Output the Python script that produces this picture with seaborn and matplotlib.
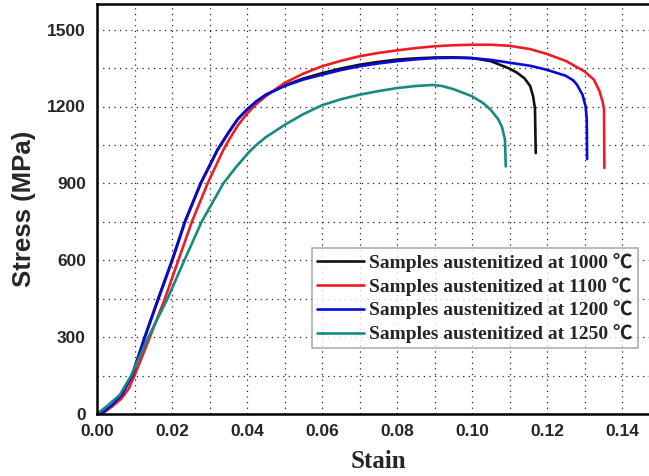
import numpy as np
import pandas as pd
import matplotlib
matplotlib.use("Agg")
import matplotlib.pyplot as plt
from matplotlib.ticker import MultipleLocator
import seaborn as sns

# values
strain_1000 = [0, 0.002, 0.0039, 0.0065, 0.0093, 0.0127, 0.0163, 0.0200, 0.0234, 0.0276, 0.0321,
               0.0351, 0.0375, 0.040, 0.0425, 0.045, 0.050, 0.055, 0.060, 0.065, 0.070, 0.075, 0.080,
               0.085, 0.090, 0.095, 0.100, 0.105, 0.110, 0.112, 0.114, 0.1155, 0.1163, 0.1168,
               0.1169, 0.1170]
stress_1000 = [0, 8, 30, 75, 150, 300, 450, 600, 750, 900, 1031,
               1100, 1150, 1188, 1220, 1246, 1282, 1309, 1330, 1348, 1363, 1374, 1383,
               1388, 1391, 1392, 1389, 1377, 1348, 1332, 1310, 1280, 1240, 1190,
               1100, 1018]

strain_1100 = [0, 0.002, 0.0041, 0.0065, 0.0085, 0.0100, 0.0141, 0.0181, 0.0217, 0.0253, 0.0295,
               0.0337, 0.0352, 0.0375, 0.040, 0.0425, 0.045, 0.050, 0.055, 0.060, 0.065, 0.070,
               0.075, 0.080, 0.085, 0.090, 0.095, 0.100, 0.105, 0.110, 0.1155, 0.120, 0.125, 0.130,
               0.1325, 0.134, 0.1348, 0.1352, 0.1353]
stress_1100 = [0, 10, 30, 60, 100, 150, 300, 450, 600, 750, 900,
               1031, 1070, 1125, 1172, 1210, 1240, 1292, 1328, 1357, 1378, 1396,
               1409, 1419, 1428, 1435, 1439, 1441, 1441, 1437, 1424, 1405, 1378, 1337,
               1305, 1260, 1220, 1190, 960]

strain_1200 = [0, 0.002, 0.004, 0.0066, 0.0094, 0.0128, 0.0164, 0.0201, 0.0235, 0.0277, 0.0322,
               0.0352, 0.0375, 0.040, 0.0425, 0.045, 0.050, 0.055, 0.060, 0.065, 0.070, 0.075,
               0.080, 0.085, 0.090, 0.095, 0.100, 0.105, 0.110, 0.1155, 0.120, 0.125, 0.127,
               0.128, 0.1295, 0.1303, 0.1306, 0.1307]
stress_1200 = [0, 12, 35, 75, 150, 300, 450, 600, 750, 900, 1031,
               1100, 1150, 1188, 1220, 1245, 1280, 1305, 1324, 1342, 1357, 1368,
               1377, 1384, 1389, 1390, 1389, 1382, 1371, 1359, 1343, 1320, 1302,
               1285, 1245, 1200, 1150, 995]

strain_1250 = [0, 0.0026, 0.0061, 0.0091, 0.0137, 0.0188, 0.0233, 0.0279, 0.0337, 0.0370, 0.0404,
               0.0425, 0.045, 0.050, 0.055, 0.060, 0.065, 0.070, 0.075, 0.080, 0.085, 0.0895, 0.092,
               0.095, 0.100, 0.103, 0.105, 0.107, 0.108, 0.1088, 0.1090]
stress_1250 = [0, 30, 75, 150, 300, 450, 600, 750, 900, 962, 1020,
               1050, 1080, 1128, 1170, 1205, 1228, 1246, 1260, 1272, 1280, 1284, 1280,
               1268, 1240, 1213, 1187, 1150, 1120, 1070, 966]

labels = ["Samples austenitized at 1000 \u2103", "Samples austenitized at 1100 \u2103",
          "Samples austenitized at 1200 \u2103", "Samples austenitized at 1250 \u2103"]
colors = ["#111111", "#ee1c24", "#0a0ad8", "#178a82"]

frames = []
for lab, xs, ys in zip(labels,
                       [strain_1000, strain_1100, strain_1200, strain_1250],
                       [stress_1000, stress_1100, stress_1200, stress_1250]):
    frames.append(pd.DataFrame({"strain": xs, "stress": ys, "sample": lab}))
df = pd.concat(frames, ignore_index=True)

sns.set_style("white")

fig = plt.figure(figsize=(6.49, 4.76), dpi=100)
ax = fig.add_axes([97 / 649, 62 / 476, 0.15 * 3750 / 649, 410 / 476])

sns.lineplot(data=df, x="strain", y="stress", hue="sample",
             palette=dict(zip(labels, colors)), sort=False, estimator=None,
             linewidth=1.9, ax=ax, legend=False)
for lab, c in zip(labels, colors):
    ax.plot([], [], color=c, linewidth=1.9, label=lab)

ax.set_xlim(0, 0.15)
ax.set_ylim(0, 1600)
ax.xaxis.set_major_locator(MultipleLocator(0.02))
ax.xaxis.set_minor_locator(MultipleLocator(0.01))
ax.yaxis.set_major_locator(MultipleLocator(300))
ax.yaxis.set_minor_locator(MultipleLocator(150))
ax.grid(True, which="both", linestyle=(0, (1, 3.5)), color="#222222", linewidth=0.9)
ax.set_axisbelow(True)

ax.tick_params(which="major", direction="in", length=6, width=1.3, top=False, right=False)
ax.tick_params(which="minor", direction="in", length=3, width=1.0, top=False, right=False)
ax.tick_params(axis="y", which="major", pad=8)
ax.tick_params(axis="x", which="major", pad=7)
for lbl in ax.get_xticklabels() + ax.get_yticklabels():
    lbl.set_family("Liberation Sans")
    lbl.set_fontweight("bold")
    lbl.set_fontsize(12.5)
ax.xaxis.set_major_formatter(plt.FuncFormatter(lambda v, p: f"{v:.2f}"))
ax.yaxis.set_major_formatter(plt.FuncFormatter(lambda v, p: f"{v:.0f}"))

for s in ax.spines.values():
    s.set_linewidth(1.8)
    s.set_color("black")

ax.set_xlabel("Stain", family="Liberation Serif", fontweight="bold", fontsize=18, labelpad=8)
ax.set_ylabel("Stress (MPa)", family="Liberation Sans", fontweight="bold", fontsize=18.5, labelpad=8)

leg = ax.legend(loc="upper left", bbox_to_anchor=(312 / 649, 1 - 248 / 476),
                bbox_transform=fig.transFigure, borderaxespad=0, frameon=True, fancybox=False,
                edgecolor="#999999", handlelength=2.4, handletextpad=0.3, labelspacing=0.25,
                borderpad=0.25, prop={"family": ["Liberation Serif", "Noto Sans CJK SC"],
                                      "weight": "bold", "size": 14})
leg.get_frame().set_linewidth(1.2)

fig.savefig("out.png", dpi=100)
